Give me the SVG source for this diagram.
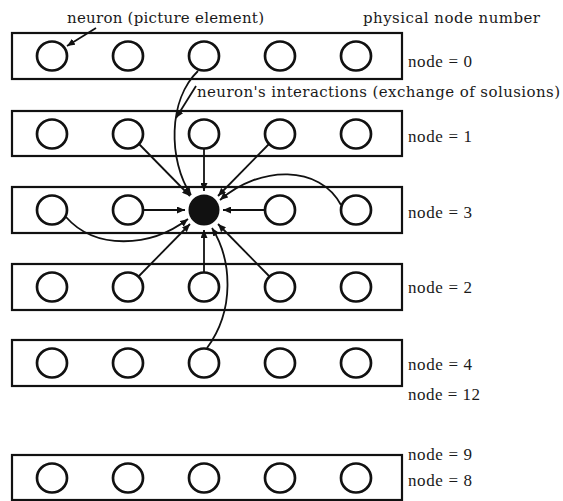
<svg xmlns="http://www.w3.org/2000/svg" width="563" height="501" viewBox="0 0 563 501">
<style>
  .box{fill:none;stroke:#111;stroke-width:2.2}
  .n{fill:none;stroke:#111;stroke-width:2.7}
  .c{fill:none;stroke:#111;stroke-width:1.8}
  .lbl{font-family:"DejaVu Serif","Liberation Serif",serif;font-size:15px;fill:#1a1a1a}
  .nd{font-family:"Liberation Serif","Times New Roman",serif;font-size:17px;fill:#1a1a1a}
</style>
<defs>
  <marker id="ah" markerUnits="userSpaceOnUse" markerWidth="9" markerHeight="7" refX="8" refY="3.5" orient="auto">
    <path d="M0,0 L8,3.5 L0,7 z" fill="#111"/>
  </marker>
</defs>
<rect width="563" height="501" fill="#fff"/>

<g id="row0">
  <rect class="box" x="12" y="33" width="390" height="46"/>
  <ellipse class="n" cx="52" cy="56" rx="15" ry="14.5"/>
  <ellipse class="n" cx="128" cy="56" rx="15" ry="14.5"/>
  <ellipse class="n" cx="204" cy="56" rx="15" ry="14.5"/>
  <ellipse class="n" cx="280" cy="56" rx="15" ry="14.5"/>
  <ellipse class="n" cx="356" cy="56" rx="15" ry="14.5"/>
  <text class="nd" x="408" y="67" textLength="64" lengthAdjust="spacing">node = 0</text>
</g>
<g id="row1">
  <rect class="box" x="12" y="111" width="390" height="45"/>
  <ellipse class="n" cx="52" cy="134" rx="15" ry="14.5"/>
  <ellipse class="n" cx="128" cy="134" rx="15" ry="14.5"/>
  <ellipse class="n" cx="204" cy="134" rx="15" ry="14.5"/>
  <ellipse class="n" cx="280" cy="134" rx="15" ry="14.5"/>
  <ellipse class="n" cx="356" cy="134" rx="15" ry="14.5"/>
  <text class="nd" x="408" y="142" textLength="64" lengthAdjust="spacing">node = 1</text>
</g>
<g id="row3">
  <rect class="box" x="12" y="187" width="390" height="46"/>
  <ellipse class="n" cx="52" cy="210" rx="15" ry="14.5"/>
  <ellipse class="n" cx="128" cy="210" rx="15" ry="14.5"/>
  <circle cx="204" cy="210" r="15.5" fill="#111"/>
  <ellipse class="n" cx="280" cy="210" rx="15" ry="14.5"/>
  <ellipse class="n" cx="356" cy="210" rx="15" ry="14.5"/>
  <text class="nd" x="408" y="218" textLength="64" lengthAdjust="spacing">node = 3</text>
</g>
<g id="row2">
  <rect class="box" x="12" y="264" width="390" height="46"/>
  <ellipse class="n" cx="52" cy="287" rx="15" ry="14.5"/>
  <ellipse class="n" cx="128" cy="287" rx="15" ry="14.5"/>
  <ellipse class="n" cx="204" cy="287" rx="15" ry="14.5"/>
  <ellipse class="n" cx="280" cy="287" rx="15" ry="14.5"/>
  <ellipse class="n" cx="356" cy="287" rx="15" ry="14.5"/>
  <text class="nd" x="408" y="293" textLength="64" lengthAdjust="spacing">node = 2</text>
</g>
<g id="row4">
  <rect class="box" x="12" y="340" width="390" height="46"/>
  <ellipse class="n" cx="52" cy="363" rx="15" ry="14.5"/>
  <ellipse class="n" cx="128" cy="363" rx="15" ry="14.5"/>
  <ellipse class="n" cx="204" cy="363" rx="15" ry="14.5"/>
  <ellipse class="n" cx="280" cy="363" rx="15" ry="14.5"/>
  <ellipse class="n" cx="356" cy="363" rx="15" ry="14.5"/>
  <text class="nd" x="408" y="370" textLength="64" lengthAdjust="spacing">node = 4</text>
  <text class="nd" x="408" y="400" textLength="72" lengthAdjust="spacing">node = 12</text>
</g>
<g id="row5">
  <rect class="box" x="12" y="455" width="390" height="45"/>
  <ellipse class="n" cx="52" cy="478" rx="15" ry="14.5"/>
  <ellipse class="n" cx="128" cy="478" rx="15" ry="14.5"/>
  <ellipse class="n" cx="204" cy="478" rx="15" ry="14.5"/>
  <ellipse class="n" cx="280" cy="478" rx="15" ry="14.5"/>
  <ellipse class="n" cx="356" cy="478" rx="15" ry="14.5"/>
  <text class="nd" x="408" y="460" textLength="64" lengthAdjust="spacing">node = 9</text>
  <text class="nd" x="408" y="486" textLength="64" lengthAdjust="spacing">node = 8</text>
</g>

<g id="labels">
  <text class="lbl" x="67" y="23" textLength="197" lengthAdjust="spacing">neuron (picture element)</text>
  <text class="lbl" x="363" y="23" textLength="177" lengthAdjust="spacing">physical node number</text>
  <text class="lbl" x="197" y="97" textLength="363" lengthAdjust="spacing">neuron's interactions (exchange of solusions)</text>
</g>

<g id="connectors">
  <path class="c" d="M96 28 L67 46" marker-end="url(#ah)"/>
  <path class="c" d="M196 86 L176 118" marker-end="url(#ah)"/>
  <path class="c" d="M198 71 C168 100, 168 160, 191 195" marker-end="url(#ah)"/>
  <path class="c" d="M139 144 L190 196" marker-end="url(#ah)"/>
  <path class="c" d="M204 149 L204 191" marker-end="url(#ah)"/>
  <path class="c" d="M269 144 L218 196" marker-end="url(#ah)"/>
  <path class="c" d="M341 205 C320 165, 260 165, 220 200" marker-end="url(#ah)"/>
  <path class="c" d="M66 217 C95 250, 150 248, 188 219" marker-end="url(#ah)"/>
  <path class="c" d="M143 210 L185 210" marker-end="url(#ah)"/>
  <path class="c" d="M265 210 L223 210" marker-end="url(#ah)"/>
  <path class="c" d="M138 277 L190 224" marker-end="url(#ah)"/>
  <path class="c" d="M204 272 L204 230" marker-end="url(#ah)"/>
  <path class="c" d="M270 277 L218 224" marker-end="url(#ah)"/>
  <path class="c" d="M207 348 C235 310, 232 260, 212 228" marker-end="url(#ah)"/>
</g>
</svg>
